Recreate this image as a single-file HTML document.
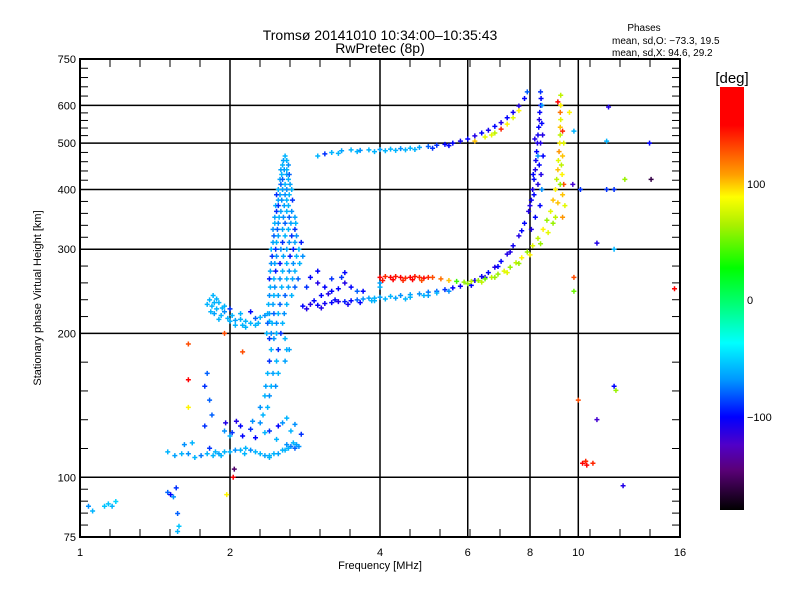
<!DOCTYPE html>
<html><head><meta charset="utf-8"><style>
body{margin:0;background:#fff;}
svg{display:block;font-family:"Liberation Sans",sans-serif;}
</style></head><body>
<svg id="chart" width="800" height="600" viewBox="0 0 800 600">
<defs>
<linearGradient id="cbar" x1="0" y1="1" x2="0" y2="0">
<stop offset="0" stop-color="#000000"/>
<stop offset="0.095" stop-color="#5a0078"/>
<stop offset="0.154" stop-color="#5000c8"/>
<stop offset="0.220" stop-color="#0000ff"/>
<stop offset="0.307" stop-color="#0096ff"/>
<stop offset="0.395" stop-color="#00ffff"/>
<stop offset="0.485" stop-color="#00ff78"/>
<stop offset="0.572" stop-color="#00ff00"/>
<stop offset="0.674" stop-color="#aaf000"/>
<stop offset="0.740" stop-color="#ffff00"/>
<stop offset="0.792" stop-color="#ffa000"/>
<stop offset="0.851" stop-color="#ff5000"/>
<stop offset="0.910" stop-color="#ff0000"/>
<stop offset="1" stop-color="#ff0000"/>
</linearGradient>
</defs>
<text x="380" y="40" font-size="14" text-anchor="middle">Tromsø 20141010 10:34:00–10:35:43</text>
<text x="380" y="53" font-size="14" text-anchor="middle">RwPretec (8p)</text>
<text x="644" y="31" font-size="10" text-anchor="middle">Phases</text>
<text x="612" y="44" font-size="10">mean, sd,O: −73.3, 19.5</text>
<text x="612" y="56" font-size="10">mean, sd,X:  94.6, 29.2</text>
<g id="grid"></g>
<g id="marks"></g>
<rect x="80" y="59" width="600" height="478" fill="none" stroke="#000" stroke-width="2"/>
<g id="axes"></g>
<text x="41" y="298" font-size="11" text-anchor="middle" transform="rotate(-90 41 298)">Stationary phase Virtual Height [km]</text>
<text x="380" y="569" font-size="11" text-anchor="middle">Frequency [MHz]</text>
<rect x="720" y="87" width="24" height="423" fill="url(#cbar)"/>
<text x="732" y="83" font-size="15" text-anchor="middle">[deg]</text>
<text x="747" y="188" font-size="11">100</text>
<text x="747" y="304" font-size="11">0</text>
<text x="747" y="421" font-size="11">−100</text>
</svg>
<script>
const xMajorTicks=[1,2,4,6,8,10,16];
const xGridLines=[2,4,6,8,10];
const yMajorTicks=[75,100,200,300,400,500,600,750];
const yGridLines=[100,200,300,400,500,600];
// [freq MHz, height km, phase deg]
const lowPoints=[[1.04,87,-70],[1.06,85,-60],[1.12,87,-55],[1.14,88,-55],[1.16,87,-60],[1.18,89,-50],[1.5,93,-80],[1.52,92,-100],[1.54,91,-70],[1.56,95,-90],[1.57,84,-80],[1.58,79,-55],[1.57,77,-60],[1.97,92,90],[2.03,100,150],[2.04,104,-150]];
const eLayerPoints=[[1.5,113,-60],[1.55,111,-65],[1.6,112,-60],[1.65,112,-70],[1.7,110,-60],[1.75,111,-75],[1.8,112,-60],[1.85,111,-60],[1.9,112,-65],[1.95,113,-60],[2.0,113,-60],[2.05,114,-70],[2.1,114,-60],[2.15,115,-60],[2.2,114,-70],[2.25,113,-60],[2.3,112,-60],[2.35,111,-65],[2.4,111,-60],[2.45,112,-60],[2.5,112,-65],[2.55,114,-60],[2.6,117,-70],[2.65,116,-75],[2.7,115,-80],[2.75,116,-70],[1.62,117,-70],[1.68,118,-60],[1.82,115,-90],[1.95,125,-70],[2.02,124,-90],[2.1,128,-100],[2.2,126,-90],[2.3,130,-70],[2.4,125,-90],[2.55,130,-70],[2.6,133,-60],[2.7,129,-70],[1.87,113,-60],[1.92,111,-60],[2.62,115,-60],[1.78,128,-90],[1.84,135,-80],[1.82,145,-80],[1.78,155,-90],[1.8,165,-80],[2.12,122,-100],[2.22,131,-70],[2.58,114,-60],[2.68,118,-60],[2.72,117,-65],[2.48,120,-60],[2.5,128,-100],[2.35,124,-60],[2.25,121,-100],[2.06,131,-110],[1.96,130,-110],[2.0,122,-60],[2.14,112,-60],[2.4,110,-60],[2.65,125,-60],[2.78,123,-90]];
const esPoints=[[1.82,235,-60],[1.84,228,-60],[1.86,220,-65],[1.88,225,-60],[1.9,232,-60],[1.92,218,-60],[1.95,222,-70],[1.98,215,-60],[2.0,212,-60],[2.05,213,-65],[2.1,214,-60],[2.15,212,-60],[2.2,210,-60],[2.25,215,-80],[2.3,216,-60],[2.35,218,-70],[1.85,240,-60],[1.88,236,-60],[1.95,228,-60],[2.0,225,-90],[2.1,220,-60],[2.2,222,-100],[2.05,208,-60],[2.15,206,-60],[2.28,210,-60],[1.83,222,-60],[1.9,214,-60],[1.8,230,-60],[1.86,232,-60],[1.93,226,-60],[2.02,218,-60],[2.12,208,-60],[2.25,208,-60],[2.4,212,-60],[2.38,220,-60]];
const spikeHeights=[470,460,450,440,430,420,410,400,390,380,370,360,350,340,330,320,310,300,290,280,270,260,250,240,230,220,210,200,195,185,175,165,155,148,140,135];
const spikeFreqs=[[2.58],[2.56,2.6],[2.55,2.62],[2.57,2.6,2.53],[2.54,2.6,2.63],[2.52,2.55,2.62],[2.53,2.58,2.64],[2.5,2.55,2.6,2.66],[2.52,2.58,2.63,2.48],[2.54,2.6,2.67,2.5],[2.47,2.5,2.57,2.62],[2.48,2.53,2.6,2.66],[2.46,2.51,2.56,2.63,2.7],[2.46,2.5,2.58,2.65,2.71],[2.44,2.49,2.55,2.62,2.7],[2.45,2.5,2.58,2.66,2.72],[2.44,2.48,2.55,2.63,2.7,2.78],[2.42,2.47,2.53,2.6,2.68,2.75],[2.43,2.48,2.56,2.64,2.72,2.8],[2.42,2.46,2.52,2.6,2.68,2.76],[2.41,2.47,2.55,2.63,2.7],[2.4,2.45,2.52,2.6,2.67,2.74],[2.41,2.46,2.54,2.62,2.7],[2.4,2.45,2.5,2.58,2.66],[2.39,2.44,2.52,2.6],[2.4,2.45,2.5,2.57],[2.38,2.43,2.48,2.55],[2.37,2.42,2.48,2.53],[2.45,2.58,2.4],[2.42,2.5,2.6,2.63],[2.4,2.48,2.58],[2.38,2.44,2.5],[2.36,2.42,2.47],[2.35,2.4],[2.3,2.38],[2.33]];
const spikePhases=[-60,-65,-60,-70,-60,-65,-80,-60,-65,-70,-60,-90,-65,-60,-70,-80,-65,-60,-90,-70,-65,-95,-60,-70,-60,-65,-80,-60,-70,-60,-90,-60,-65,-60,-70,-60];
const oTracePoints=[[2.8,228,-100],[2.9,230,-110],[3.0,229,-100],[3.1,231,-105],[3.2,232,-100],[3.3,233,-110],[3.4,233,-95],[3.5,234,-100],[3.6,235,-80],[3.7,236,-70],[3.8,237,-65],[3.9,237,-60],[4.0,238,-65],[4.2,239,-60],[4.4,240,-70],[4.6,241,-65],[4.8,242,-70],[5.0,244,-75],[5.2,245,-80],[5.4,247,-90],[5.6,249,-100],[5.8,251,-105],[6.0,254,-100],[6.2,258,-110],[6.4,263,-105],[6.6,268,-100],[6.8,275,-110],[7.0,283,-100],[7.2,293,-110],[7.4,305,-105],[7.6,320,-110],[7.8,340,-100],[7.95,360,-110],[8.05,380,-105],[8.1,400,-110],[8.15,420,-100],[8.2,440,-110],[8.22,460,-105],[8.25,480,-100],[8.28,500,-110],[8.3,520,-105],[8.33,540,-100],[8.35,560,-110],[8.37,580,-100],[8.4,600,-105],[8.42,620,-100],[8.4,640,-90],[8.15,390,-100],[8.3,410,-110],[8.35,450,-100],[8.4,500,-110],[8.45,550,-100],[8.45,600,-70],[8.2,350,-100],[8.05,330,-110],[8.3,470,-70],[8.42,430,-110],[8.38,370,-100],[2.9,262,-100],[3.0,255,-110],[3.1,250,-100],[3.2,260,-90],[3.3,248,-100],[3.4,255,-110],[3.5,250,-100],[3.6,245,-80],[3.0,270,-100],[3.15,242,-110],[3.35,262,-90],[3.9,234,-60],[4.1,236,-60],[4.3,237,-65],[4.6,238,-60],[4.9,240,-60],[5.2,243,-60],[4.0,250,-60],[4.0,255,-65],[2.85,225,-110],[2.95,234,-100],[3.05,226,-110],[3.25,235,-100],[3.45,230,-105],[3.65,232,-100],[3.85,234,-60],[4.5,236,-60],[5.0,240,-65],[5.5,245,-70],[6.1,252,-100],[6.5,262,-110],[6.9,276,-100],[7.3,296,-110],[7.7,328,-100],[8.0,370,-110],[8.12,430,-100],[8.18,510,-110],[8.5,470,-100],[8.48,520,-110],[8.45,400,-70],[3.2,245,-100],[2.85,250,-90],[3.05,240,-100],[3.4,268,-100],[3.7,245,-100]];
const xTracePoints=[[4.0,262,150],[4.1,263,140],[4.2,262,150],[4.3,263,145],[4.4,262,150],[4.5,261,140],[4.6,262,150],[4.7,263,145],[4.8,262,140],[4.9,261,150],[5.0,262,140],[5.1,262,130],[5.3,260,120],[5.5,258,100],[4.05,258,145],[4.25,259,150],[4.45,258,140],[4.65,259,150],[4.85,258,130],[5.7,257,40],[5.9,256,60],[6.1,257,70],[6.3,258,60],[6.5,260,50],[6.7,262,70],[6.9,266,60],[7.1,270,80],[7.3,275,60],[7.5,281,70],[7.7,288,90],[7.9,296,60],[8.1,305,80],[8.3,316,70],[8.5,330,90],[8.65,345,60],[8.8,360,80],[8.9,380,100],[9.0,400,90],[9.05,420,70],[9.1,440,100],[9.12,460,80],[9.15,480,110],[9.18,500,90],[9.2,520,70],[9.2,540,100],[9.22,560,80],[9.2,580,120],[9.22,600,90],[9.22,630,70],[9.3,390,100],[9.35,410,130],[9.25,450,70],[9.3,350,110],[9.4,370,80],[8.9,340,60],[9.3,530,140],[9.1,610,150],[6.0,254,60],[6.4,256,70],[6.8,262,60],[7.2,268,80],[7.6,280,60],[8.0,292,90],[8.4,308,60],[8.7,325,80],[9.0,350,70],[9.1,375,100],[9.2,410,60],[9.28,430,90],[9.3,470,100],[9.35,500,80]];
const upperPoints=[[3.0,470,-60],[3.1,475,-90],[3.2,478,-60],[3.35,482,-65],[3.5,484,-60],[3.65,483,-70],[3.8,484,-60],[4.0,485,-65],[4.2,486,-60],[4.4,487,-70],[4.6,488,-60],[4.8,490,-65],[5.0,492,-80],[5.2,495,-90],[5.4,497,-100],[5.6,500,-100],[5.8,505,-105],[6.0,510,-100],[6.2,518,-110],[6.4,525,-100],[6.6,532,-105],[6.8,542,-100],[7.0,552,-110],[7.2,565,-100],[7.4,580,-105],[7.6,598,-110],[7.8,620,-100],[7.9,640,-80],[3.6,480,-60],[4.1,482,-60],[4.5,484,-60],[6.5,515,80],[6.8,525,70],[7.0,535,140],[7.2,548,90],[7.4,565,80],[7.6,585,90],[6.7,520,80],[6.2,505,100],[3.3,476,-60],[3.9,480,-60],[4.3,483,-60],[4.7,485,-60],[5.1,488,-90],[5.5,494,-100]];
const scatterPoints=[[1.95,200,130],[1.65,190,130],[2.12,183,130],[1.65,160,160],[1.65,140,90],[10.0,145,130],[10.2,107,150],[10.35,108,140],[10.4,106,160],[11.5,595,-110],[11.8,155,-100],[11.9,152,60],[10.9,132,-120],[12.3,96,-110],[9.8,245,50],[9.8,262,130],[11.8,300,-60],[10.9,309,-110],[11.4,505,-60],[9.8,530,-60],[12.4,420,60],[10.1,400,-90],[11.4,400,-90],[11.8,400,-90],[9.75,410,-120],[13.9,500,-100],[15.6,248,150],[14.0,420,-160],[9.6,580,90],[10.7,107,140]];

const X0=80,XW=600,Y0=537,YH=478;
function xScale(f){return X0+XW*Math.log2(f)/4;}
function yScale(h){return Y0-YH*Math.log10(h/75);}
const cStops=[[-180,[0,0,0]],[-146,[90,0,120]],[-124,[80,0,200]],[-100,[0,0,255]],[-69,[0,150,255]],[-37,[0,255,255]],[-4,[0,255,120]],[27,[0,255,0]],[64,[170,240,0]],[88,[255,255,0]],[107,[255,160,0]],[129,[255,80,0]],[150,[255,0,0]],[180,[255,0,0]]];
function colorOf(p){
  for(let i=0;i<cStops.length-1;i++){
    const a=cStops[i],b=cStops[i+1];
    if(p<=b[0]){const t=Math.max(0,(p-a[0])/(b[0]-a[0]));
      const c=a[1].map((v,k)=>Math.round(v+(b[1][k]-v)*t));return 'rgb('+c.join(',')+')';}
  }
  return 'rgb(255,0,0)';
}
const NS='http://www.w3.org/2000/svg';
const grid=document.getElementById('grid'),axes=document.getElementById('axes'),marks=document.getElementById('marks');
function line(g,x1,y1,x2,y2,w){const l=document.createElementNS(NS,'line');l.setAttribute('x1',x1);l.setAttribute('y1',y1);l.setAttribute('x2',x2);l.setAttribute('y2',y2);l.setAttribute('stroke','#000');l.setAttribute('stroke-width',w);g.appendChild(l);return l;}
function txt(g,x,y,s,anchor){const t=document.createElementNS(NS,'text');t.setAttribute('x',x);t.setAttribute('y',y);t.setAttribute('font-size','11');t.setAttribute('text-anchor',anchor);t.textContent=s;g.appendChild(t);return t;}
xGridLines.forEach(f=>{const l=line(grid,xScale(f),59,xScale(f),537,1.5);

});
yGridLines.forEach(h=>{const l=line(grid,80,yScale(h),680,yScale(h),1.5);

});
for(let k=1;k<20;k++){if(k%5===0)continue;const x=X0+30*k;
  line(axes,x,537,x,529,1);line(axes,x,59,x,67,1);}
xMajorTicks.forEach(f=>{const t=txt(axes,xScale(f),556,String(f),'middle');

});
for(let i=0;i<yMajorTicks.length-1;i++){const ya=yScale(yMajorTicks[i]),yb=yScale(yMajorTicks[i+1]);
  for(let k=1;k<5;k++){const y=ya+(yb-ya)*k/5;line(axes,80,y,88,y,1);line(axes,680,y,672,y,1);}}
yMajorTicks.forEach(h=>{const t=txt(axes,76,yScale(h)+4,String(h),'end');

});
function plus(f,h,p){
  const x=xScale(f),y=yScale(h);
  const el=document.createElementNS(NS,'path');
  el.setAttribute('d','M'+(x-2.5)+' '+y+'h5M'+x+' '+(y-2.5)+'v5');
  el.setAttribute('stroke',colorOf(p));el.setAttribute('stroke-width','1.5');el.setAttribute('fill','none');
  
  
  marks.appendChild(el);
}
[lowPoints,eLayerPoints,esPoints,oTracePoints,xTracePoints,upperPoints,scatterPoints].forEach(arr=>arr.forEach(d=>plus(d[0],d[1],d[2])));
spikeHeights.forEach((h,i)=>spikeFreqs[i].forEach((f,j)=>plus(f,h,spikePhases[(i+j)%spikePhases.length])));
</script>
</body></html>
